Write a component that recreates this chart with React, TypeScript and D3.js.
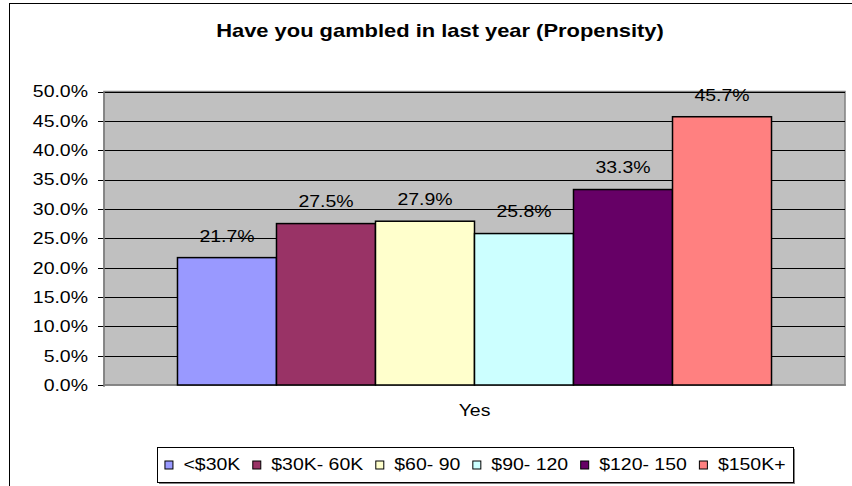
import React from "react";
import * as d3 from "d3";

const title = "Have you gambled in last year (Propensity)";
const groups = ["Yes"];
const categories = ["<$30K", "$30K- 60K", "$60- 90", "$90- 120", "$120- 150", "$150K+"];
const values = [0.217, 0.275, 0.279, 0.258, 0.333, 0.457];
const colors = ["#9999FF", "#993366", "#FFFFCC", "#CCFFFF", "#660066", "#FF8080"];
const yTicks = [0, 0.05, 0.1, 0.15, 0.2, 0.25, 0.3, 0.35, 0.4, 0.45, 0.5];

const W = 852;
const H = 486;
const plot = { left: 104, right: 845, top: 91.5, bottom: 385 };
const FS = 16.5;
const SX = 1.18;
const TFS = 18;
const TSX = 1.217;
const FONT = "'Liberation Sans', Arial, Helvetica, sans-serif";

function measure(text: string, size: number, weight = "normal") {
  const c = document.createElement("canvas");
  const ctx = c.getContext("2d")!;
  ctx.font = `${weight} ${size}px 'Liberation Sans', Arial`;
  return ctx.measureText(text).width;
}

export default function App() {
  const y = d3.scaleLinear().domain([0, 0.5]).range([plot.bottom, plot.top]);
  const xOuter = d3
    .scaleBand<string>()
    .domain(groups)
    .range([plot.left, plot.right])
    .paddingInner(0)
    .paddingOuter(0.1237);
  const xInner = d3
    .scaleBand<string>()
    .domain(categories)
    .range([0, xOuter.bandwidth()])
    .padding(0);
  const fmt = d3.format(".1%");

  // legend layout
  const swatch = 8;
  const swGap = 11;
  const itemGap = 12;
  const widths = categories.map((c) => measure(c, FS) * SX);
  const itemWidths = widths.map((w) => swatch + swGap + w);
  const total = d3.sum(itemWidths) + itemGap * (categories.length - 1);
  const legend = { left: 157, right: 793, top: 447, bottom: 482 };
  const legendCx = (legend.left + legend.right) / 2;
  let cursor = legendCx - total / 2;
  const legendItems = categories.map((c, i) => {
    const x0 = cursor;
    cursor += itemWidths[i] + itemGap;
    return { c, x0, color: colors[i] };
  });
  const legendCy = (legend.top + legend.bottom) / 2;

  const scaledText = (
    x: number,
    yy: number,
    text: string,
    anchor: "start" | "middle" | "end",
    size = FS,
    weight = "normal",
    key?: string | number,
    sx = SX
  ) => (
    <text
      key={key}
      transform={`translate(${x},${yy}) scale(${sx},1)`}
      textAnchor={anchor}
      fontSize={size}
      fontWeight={weight}
      fontFamily={FONT}
      fill="#000"
    >
      {text}
    </text>
  );

  return (
    <svg
      width={W}
      height={H}
      style={{ position: "absolute", left: 0, top: 0, background: "#fff" }}
    >
      <rect x={0} y={0} width={W} height={H} fill="#fff" />
      {/* chart border */}
      <rect x={9.5} y={3.5} width={900} height={600} fill="none" stroke="#000" strokeWidth={1} />

      {/* title */}
      {scaledText(440, 36.5, title, "middle", TFS, "bold", "title", TSX)}

      {/* plot area */}
      <rect
        x={plot.left}
        y={plot.top}
        width={plot.right - plot.left}
        height={plot.bottom - plot.top}
        fill="#C0C0C0"
        stroke="#808080"
        strokeWidth={1.5}
      />
      {yTicks.map((t) => (
        <g key={t}>
          {t > 0 && (
            <line
              x1={plot.left}
              x2={plot.right}
              y1={Math.round(y(t)) + 0.5}
              y2={Math.round(y(t)) + 0.5}
              stroke="#000"
              strokeWidth={1}
            />
          )}
          <line
            x1={plot.left - 6}
            x2={plot.left}
            y1={Math.round(y(t)) + 0.5}
            y2={Math.round(y(t)) + 0.5}
            stroke="#000"
            strokeWidth={1}
          />
          {scaledText(88, y(t) + 5.9, fmt(t), "end")}
        </g>
      ))}
      <line x1={plot.left} x2={plot.left} y1={plot.top} y2={plot.bottom + 2} stroke="#808080" strokeWidth={1.5} />
      <line x1={plot.left} x2={plot.right + 1} y1={plot.bottom} y2={plot.bottom} stroke="#808080" strokeWidth={1.5} />

      {/* bars */}
      {groups.map((g) => (
        <g key={g} transform={`translate(${xOuter(g)},0)`}>
          {categories.map((c, i) => (
            <rect
              key={c}
              x={xInner(c)!}
              y={y(values[i])}
              width={xInner.bandwidth()}
              height={plot.bottom - y(values[i])}
              fill={colors[i]}
              stroke="#000"
              strokeWidth={1.5}
            />
          ))}
          {categories.map((c, i) =>
            scaledText(
              xInner(c)! + xInner.bandwidth() / 2,
              y(values[i]) - 16.1,
              fmt(values[i]),
              "middle",
              FS,
              "normal",
              c
            )
          )}
        </g>
      ))}

      {/* x category label */}
      {groups.map((g) =>
        scaledText(xOuter(g)! + xOuter.bandwidth() / 2, 416, g, "middle", FS, "normal", g)
      )}

      {/* legend */}
      <rect
        x={legend.left + 2}
        y={legend.top + 2}
        width={legend.right - legend.left}
        height={legend.bottom - legend.top}
        fill="#808080"
      />
      <rect
        x={legend.left + 0.5}
        y={legend.top + 0.5}
        width={legend.right - legend.left}
        height={legend.bottom - legend.top}
        fill="#fff"
        stroke="#000"
        strokeWidth={1}
      />
      {legendItems.map((it, i) => (
        <g key={it.c}>
          <rect
            x={it.x0 + 0.5}
            y={legendCy - swatch / 2 + 0.5}
            width={swatch}
            height={swatch}
            fill={it.color}
            stroke="#000"
            strokeWidth={1}
          />
          {scaledText(it.x0 + swatch + swGap, legendCy + 5.9, it.c, "start", FS, "normal", i)}
        </g>
      ))}
    </svg>
  );
}
